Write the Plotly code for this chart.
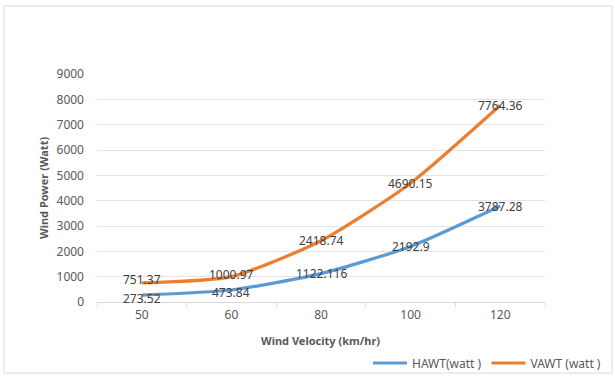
import plotly.graph_objects as go

categories = ["50", "60", "80", "100", "120"]
hawt = [273.52, 473.84, 1122.116, 2192.9, 3787.28]
vawt = [751.37, 1000.97, 2418.74, 4690.15, 7764.36]
hawt_labels = ["273.52", "473.84", "1122.116", "2192.9", "3787.28"]
vawt_labels = ["751.37", "1000.97", "2418.74", "4690.15", "7764.36"]
hawt_shift = [-3, -2, 0, 0, 0]
vawt_shift = [3, 2, 0, 0, 0]

FONT = "Noto Sans"
W, H = 615, 377
L, R, T, B = 97, 70, 74, 75
pw, ph = W - L - R, H - T - B

fig = go.Figure()
fig.add_trace(go.Scatter(
    x=categories, y=hawt, name="HAWT(watt )", mode="lines",
    line=dict(color="#5B9BD5", width=3.2, shape="spline", smoothing=0.6),
))
fig.add_trace(go.Scatter(
    x=categories, y=vawt, name="VAWT (watt )", mode="lines",
    line=dict(color="#ED7D31", width=3.2, shape="spline", smoothing=0.6),
))

def px(x):
    return (x - L) / pw

def py(y):
    return (H - B - y) / ph

annotations = []
for ys, labels, shifts in [(hawt, hawt_labels, hawt_shift),
                           (vawt, vawt_labels, vawt_shift)]:
    for i, (yv, lab, sh) in enumerate(zip(ys, labels, shifts)):
        annotations.append(dict(
            x=i, y=yv, xref="x", yref="y", text=lab, showarrow=False,
            xanchor="center", yanchor="middle", yshift=sh,
            font=dict(family=FONT, size=12, color="#404040"),
        ))

annotations += [
    dict(text="<b>Wind Power (Watt)</b>", x=px(43), y=py(188), xref="paper", yref="paper",
         textangle=-90, showarrow=False, font=dict(family=FONT, size=11, color="#595959"),
         xanchor="center", yanchor="middle"),
    dict(text="<b>Wind Velocity (km/hr)</b>", x=px(320), y=py(340), xref="paper", yref="paper",
         showarrow=False, font=dict(family=FONT, size=11, color="#595959"),
         xanchor="center", yanchor="middle"),
]

fig.update_layout(
    width=W, height=H,
    margin=dict(l=L, r=R, t=T, b=B, autoexpand=False),
    paper_bgcolor="white", plot_bgcolor="white",
    font=dict(family=FONT, size=12, color="#595959"),
    xaxis=dict(
        type="category", range=[-0.5, 4.5], automargin=False,
        showgrid=False, showline=True, linecolor="#D9D9D9", linewidth=1,
        ticks="outside", ticklen=4, tickcolor="#D9D9D9", tickson="boundaries",
        tickfont=dict(family=FONT, size=12, color="#595959"),
        ticklabelstandoff=2,
    ),
    yaxis=dict(
        range=[0, 9000], tickvals=list(range(0, 9001, 1000)), automargin=False,
        showgrid=True, gridcolor="#E4E4E4", gridwidth=1,
        zeroline=False, showline=False, ticks="",
        tickfont=dict(family=FONT, size=12, color="#595959"),
        ticklabelstandoff=12,
    ),
    showlegend=True,
    legend=dict(
        orientation="h", x=px(606), xanchor="right", y=py(363), yanchor="middle",
        font=dict(family=FONT, size=12, color="#595959"),
        bgcolor="rgba(0,0,0,0)", itemwidth=34, tracegroupgap=0,
    ),
    annotations=annotations,
    shapes=[
        dict(type="rect", xref="paper", yref="paper",
             x0=px(4), x1=px(612), y0=py(373), y1=py(6),
             line=dict(color="#D9D9D9", width=1), fillcolor="rgba(0,0,0,0)", layer="below"),
    ],
)

fig.write_html("out.html", config={"displayModeBar": False},
               post_script="document.body.style.margin='0';document.body.style.padding='0';")
